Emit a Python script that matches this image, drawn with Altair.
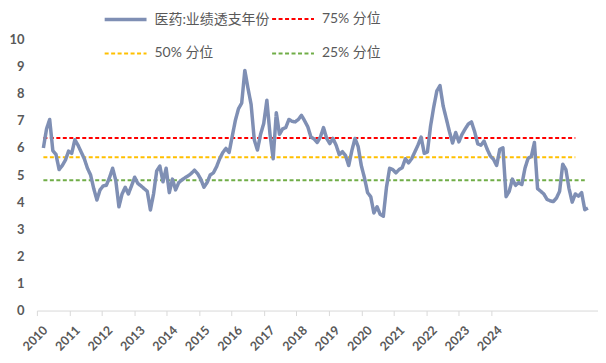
import altair as alt
import pandas as pd

# ---- data (monthly, starting 2010-01) ----
start_year = 2010
main_name = "医药:业绩透支年份"
main_values = [
    6.0, 6.7, 7.05, 5.9, 5.76, 5.2, 5.35, 5.55, 5.88, 5.8, 6.3, 6.1,
    5.85, 5.6, 5.25, 5.0, 4.5, 4.08, 4.45, 4.6, 4.62, 4.9, 5.25, 4.8,
    3.83, 4.3, 4.55, 4.3, 4.6, 4.92, 4.69, 4.6, 4.5, 4.4, 3.71, 4.3,
    5.15, 5.33, 4.75, 5.25, 4.35, 4.85, 4.45, 4.72, 4.82, 4.9, 4.97, 5.06,
    5.18, 5.05, 4.85, 4.55, 4.72, 5.0, 5.08, 5.3, 5.6, 5.83, 5.98, 5.83,
    6.43, 7.02, 7.45, 7.65, 8.86, 8.2, 7.6, 6.3, 5.92, 6.5, 6.9, 7.76,
    6.5, 5.6, 7.3, 6.5, 6.7, 6.75, 7.05, 6.98, 6.96, 7.05, 7.2, 7.0,
    6.78, 6.4, 6.33, 6.2, 6.4, 6.75, 6.35, 6.16, 6.35, 6.1, 5.75, 5.86,
    5.72, 5.35, 5.9, 6.35, 6.05, 5.35, 4.9, 4.35, 4.2, 3.6, 3.83, 3.55,
    3.48, 4.55, 5.25, 5.2, 5.08, 5.2, 5.27, 5.6, 5.45, 5.6, 5.85, 6.1,
    6.4, 5.8, 5.85, 6.8, 7.5, 8.1, 8.3, 7.55, 7.08, 6.6, 6.18, 6.57,
    6.22, 6.5, 6.7, 6.88, 6.96, 6.6, 6.15, 6.1, 6.25, 5.95, 5.7, 5.58,
    5.35, 5.95, 6.0, 4.2, 4.4, 4.85, 4.62, 4.72, 4.65, 5.25, 5.62, 5.68,
    6.2, 4.5, 4.4, 4.3, 4.1, 4.05, 4.02, 4.15, 4.4, 5.4, 5.2, 4.5,
    4.0, 4.3, 4.22, 4.35, 3.72, 3.78,
]
pct_names = ["75% 分位", "50% 分位", "25% 分位"]
pct_levels = [6.37, 5.66, 4.81]
pct_last_month = [169, 169, 172]
year_labels = list(range(2010, 2025))

series_names = [main_name] + pct_names
series_colors = ["#7F8FB4", "#FF0000", "#FFC000", "#70AD47"]

# ---- tables ----
main_df = pd.DataFrame({
    "idx": list(range(len(main_values))),
    "value": main_values,
    "series": main_name,
})
pct_rows = []
for name, lvl, last in zip(pct_names, pct_levels, pct_last_month):
    pct_rows.append({"idx": 0, "value": lvl, "series": name})
    pct_rows.append({"idx": last, "value": lvl, "series": name})
pct_df = pd.DataFrame(pct_rows)

# category-style axis labels (as in the original chart)
first_tick = -2.06
tick_step = 10.31
tick_vals = [first_tick + k * tick_step for k in range(len(year_labels))]
label_expr = f"format(round((datum.value - ({first_tick})) / {tick_step}) + {start_year}, 'd')"

x_scale = alt.Scale(domain=[-2.06, 176.2], nice=False, zero=False)
y_scale = alt.Scale(domain=[0, 10], nice=False, zero=True)
color_scale = alt.Scale(domain=series_names, range=series_colors)
dash_scale = alt.Scale(domain=series_names, range=[[1, 0], [4, 2.5], [4, 2.5], [4, 2.5]])
width_scale = alt.Scale(type="ordinal", domain=series_names, range=[3.5, 2, 2, 2])

axis_font = "Lato"
x_axis = alt.Axis(
    values=tick_vals, labelExpr=label_expr, labelAngle=-45, grid=False,
    domainColor="#D9D9D9", tickColor="#D9D9D9", tickSize=5, title=None,
    labelFont=axis_font, labelFontWeight="bold", labelFontSize=12.5,
    labelColor="#595959", labelPadding=8, labelOffset=4,
)
y_axis = alt.Axis(
    values=list(range(0, 11)), grid=False, domain=False, ticks=False, title=None,
    labelFont=axis_font, labelFontWeight="bold", labelFontSize=13,
    labelColor="#595959", labelPadding=13,
)

def enc(base):
    return base.encode(
        x=alt.X("idx:Q", scale=x_scale, axis=x_axis),
        y=alt.Y("value:Q", scale=y_scale, axis=y_axis),
        color=alt.Color("series:N", scale=color_scale, title=None),
        strokeDash=alt.StrokeDash("series:N", scale=dash_scale, title=None),
        strokeWidth=alt.StrokeWidth("series:N", scale=width_scale, title=None),
    )

pct_layer = enc(alt.Chart(pct_df).mark_line())
main_layer = enc(alt.Chart(main_df).mark_line(strokeJoin="round"))

chart = alt.layer(pct_layer, main_layer).properties(
    width=563, height=272,
    autosize=alt.AutoSizeParams(type="none"),
    padding={"left": 29, "top": 31, "right": 0, "bottom": 44},
    background="white",
).configure_view(stroke=None).configure_legend(
    orient="none", legendX=66, legendY=-43, columns=2, direction="horizontal",
    symbolType="stroke", symbolSize=1764, labelFont="Lato, Noto Sans CJK SC",
    labelFontSize=14, labelColor="#595959", labelOffset=6,
    columnPadding=-11, rowPadding=5, padding=0,
)

chart.save("out.html", embed_options={"renderer": "svg", "actions": False})
